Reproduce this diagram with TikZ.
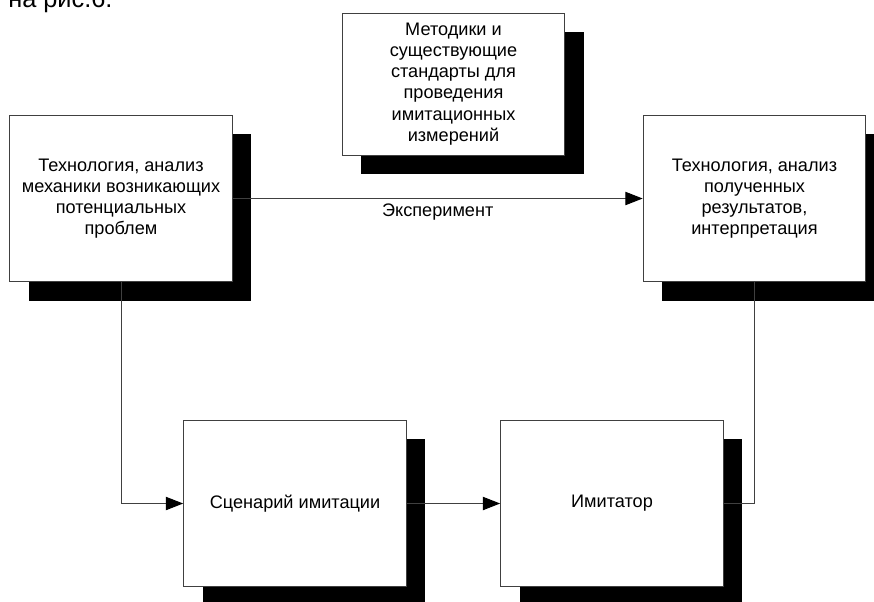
\documentclass[tikz,border=0pt]{standalone}
\usepackage{fontspec}
\setmainfont{Liberation Sans}
\usetikzlibrary{arrows.meta, shadows, positioning}

\begin{document}
\begin{tikzpicture}[x=0.75pt, y=-0.75pt,
  blk/.style={draw=black!75, line width=0.75pt, fill=white, align=center, inner sep=0pt,
    minimum width=167pt, minimum height=125pt, font=\fontsize{13.6}{15.9}\selectfont,
    drop shadow={shadow xshift=14.25pt, shadow yshift=-14.25pt, fill=black, opacity=1, draw=none}},
  conn/.style={draw=black!75, line width=0.75pt},
  arr/.style={conn, -{Triangle[length=13pt, width=10pt, color=black]}}]
  \useasboundingbox (0,0) rectangle (874,601);
  \node[anchor=base west, inner sep=0pt, font=\fontsize{19}{22}\selectfont] (cap) at (8,7) {на рис.6.};
  \node[blk] (tech) at (121,198.5) {Технология, анализ\\механики возникающих\\потенциальных\\проблем};
  \node[blk, minimum height=106.5pt] (meth) at (453.5,84) {Методики и\\существующие\\стандарты для\\проведения\\имитационных\\измерений};
  \node[blk] (res) at (754.5,198.5) {Технология, анализ\\полученных\\результатов,\\интерпретация};
  \node[blk] (scen) at (295,503.5) {Сценарий имитации};
  \node[blk] (sim) at (612,503.5) {Имитатор};
  \draw[arr] (tech.east) -- node[below, font=\fontsize{13.6}{15.9}\selectfont] (exp) {Эксперимент} (res.west);
  \draw[arr] (tech.south) |- (scen.west);
  \draw[arr] (scen.east) -- (sim.west);
  \draw[conn] (sim.east) -| (res.south);
\end{tikzpicture}
\end{document}
